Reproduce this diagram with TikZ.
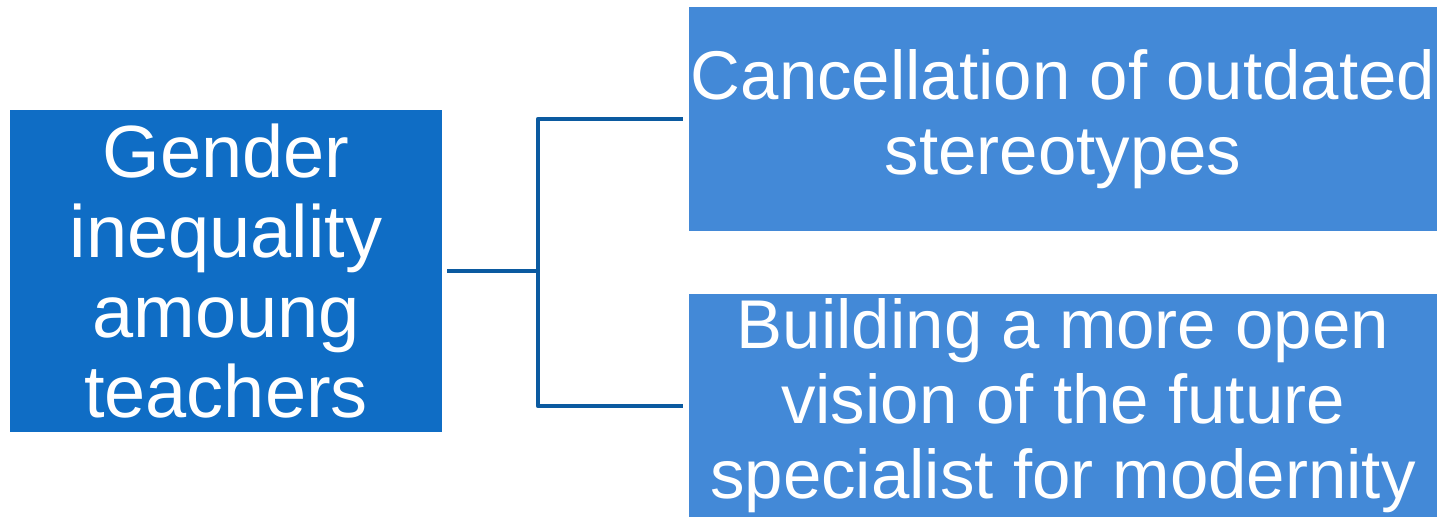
\documentclass[tikz,border=0pt]{standalone}
\usepackage{fontspec}
\setmainfont{Liberation Sans}
\definecolor{darkbox}{HTML}{0F6DC5}
\definecolor{lightbox}{HTML}{4389D7}
\definecolor{linkblue}{HTML}{0B5AA0}
\tikzset{
  box/.style={fill=#1, text=white, inner sep=0pt, align=center},
  link/.style={draw=linkblue, line width=2.2pt, line join=round}
}
\begin{document}
\begin{tikzpicture}[x=0.5pt, y=-0.5pt]
      \useasboundingbox (0,0) rectangle (1439,516);
      \node (gi) at (226, 271) [box=darkbox, minimum width=216pt, minimum height=161pt,
        font=\fontsize{37pt}{40pt}\selectfont] {Gender\\inequality\\amoung\\teachers};
      \node (cs) at (1063, 119) [box=lightbox, minimum width=374pt, minimum height=112pt,
        font=\fontsize{34.5pt}{37.5pt}\selectfont] {Cancellation of outdated\\stereotypes};
      \node (bv) at (1063, 406) [box=lightbox, minimum width=374pt, minimum height=112pt,
        font=\fontsize{34.5pt}{37.5pt}\selectfont] {Building a more open\\vision of the future\\specialist for modernity};

      \coordinate (fork) at (538, 271);
      \draw[link, shorten <=2.5pt] (gi.east) -- (fork);
      \draw[link, shorten >=3pt] (fork) |- (cs.west);
      \draw[link, shorten >=3pt] (fork) |- (bv.west);
    \end{tikzpicture}
\end{document}
